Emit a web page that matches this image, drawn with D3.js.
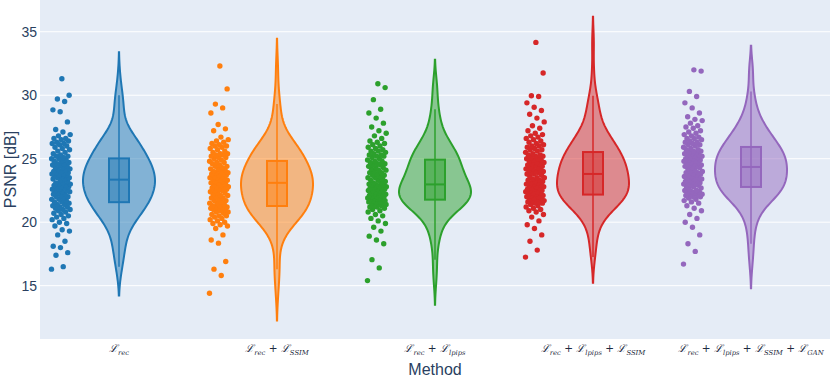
<!DOCTYPE html>
<meta charset="utf-8">
<title>PSNR per method</title>
<style>
body { margin: 0; background: #fff; }
text { font-family: "Liberation Sans", Arial, sans-serif; fill: #2a3f5f; }
.grid line { stroke: #fff; stroke-width: 1; }
.ytick { font-size: 14px; }
.xlab { font-family: "DejaVu Serif", serif; font-style: italic; fill: #1e2a40; }
</style>
<body>
<script src="https://d3js.org/d3.v7.min.js"></script>
<script>

var width = 830, height = 378;

// categories and their labels (subscripts of each L term)
var methods = ["rec", "rec+SSIM", "rec+lpips", "rec+lpips+SSIM", "rec+lpips+SSIM+GAN"];
var labelTerms = [
  ["rec"],
  ["rec", "SSIM"],
  ["rec", "lpips"],
  ["rec", "lpips", "SSIM"],
  ["rec", "lpips", "SSIM", "GAN"]
];
var colors = ["#1f77b4", "#ff7f0e", "#2ca02c", "#d62728", "#9467bd"];
var yTicks = [15, 20, 25, 30, 35];

// PSNR values
var psnrRec = [16.3,16.5,17.4,17.6,18.0,18.1,18.5,19.0,19.3,19.4,19.7,19.9,20.0,20.2,20.3,20.4,20.5,20.6,20.7,20.8,
  20.9,21.0,21.0,21.1,21.2,21.2,21.3,21.4,21.4,21.5,21.6,21.6,21.7,21.8,21.8,21.9,22.0,22.0,22.1,22.2,
  22.2,22.3,22.4,22.4,22.5,22.5,22.6,22.6,22.7,22.7,22.8,22.8,22.9,22.9,23.0,23.0,23.1,23.1,23.2,23.3,
  23.4,23.4,23.5,23.5,23.6,23.6,23.7,23.7,23.8,23.8,23.9,23.9,24.0,24.0,24.1,24.2,24.2,24.3,24.3,24.4,
  24.5,24.5,24.6,24.6,24.7,24.8,24.8,24.9,25.0,25.0,25.1,25.2,25.2,25.3,25.4,25.5,25.6,25.7,25.8,25.9,
  26.0,26.1,26.2,26.2,26.3,26.4,26.5,26.6,26.6,26.8,26.9,27.1,27.3,27.9,28.7,28.85,29.5,29.7,30.0,31.3];
var psnrSsim = [14.4,15.8,16.3,16.9,18.35,18.6,19.0,19.5,19.7,19.8,19.9,20.0,20.1,20.2,20.3,20.4,20.5,20.5,20.6,20.7,
  20.8,20.8,20.9,21.0,21.0,21.1,21.1,21.2,21.2,21.2,21.3,21.3,21.4,21.5,21.5,21.6,21.7,21.7,21.8,21.9,
  21.9,22.0,22.1,22.1,22.2,22.3,22.3,22.4,22.5,22.5,22.6,22.6,22.7,22.7,22.8,22.8,22.9,22.9,23.0,23.1,
  23.1,23.2,23.2,23.3,23.3,23.4,23.4,23.5,23.5,23.6,23.6,23.7,23.7,23.8,23.8,23.9,23.9,24.0,24.0,24.1,
  24.2,24.2,24.3,24.4,24.4,24.5,24.6,24.7,24.7,24.8,24.9,25.0,25.1,25.1,25.2,25.3,25.3,25.4,25.4,25.5,
  25.6,25.7,25.8,25.9,26.0,26.0,26.1,26.2,26.3,26.4,26.5,26.7,27.2,27.35,27.7,28.6,29.0,29.3,30.5,32.3];
var psnrLpips = [15.4,16.4,17.05,18.3,18.6,18.9,19.3,19.6,19.9,20.1,20.3,20.5,20.6,20.8,20.9,21.0,21.1,21.2,21.2,21.3,
  21.3,21.4,21.4,21.5,21.5,21.6,21.6,21.6,21.7,21.7,21.8,21.8,21.8,21.9,21.9,21.9,22.0,22.0,22.0,22.1,
  22.1,22.2,22.2,22.3,22.3,22.4,22.4,22.5,22.5,22.5,22.6,22.6,22.7,22.7,22.8,22.8,22.8,22.9,22.9,22.95,
  23.0,23.1,23.1,23.2,23.3,23.3,23.4,23.5,23.5,23.6,23.7,23.7,23.8,23.9,23.9,24.0,24.1,24.1,24.2,24.3,
  24.3,24.4,24.5,24.5,24.6,24.6,24.7,24.8,24.8,24.9,25.0,25.1,25.2,25.2,25.3,25.3,25.4,25.5,25.6,25.6,
  25.7,25.8,25.9,26.0,26.1,26.2,26.3,26.4,26.6,26.8,27.0,27.2,27.5,27.8,28.2,28.6,28.9,29.65,30.6,30.9];
var psnrLpipsSsim = [17.25,17.8,18.5,19.0,19.5,19.8,20.1,20.4,20.6,20.8,20.9,21.0,21.1,21.2,21.3,21.4,21.5,21.5,21.6,21.6,
  21.7,21.7,21.8,21.8,21.9,21.9,22.0,22.0,22.1,22.1,22.2,22.2,22.3,22.3,22.4,22.4,22.5,22.5,22.6,22.6,
  22.7,22.7,22.8,22.8,22.9,22.9,23.0,23.0,23.1,23.1,23.2,23.2,23.3,23.3,23.4,23.5,23.5,23.6,23.7,23.8,
  23.8,23.9,23.9,24.0,24.0,24.1,24.1,24.2,24.2,24.3,24.3,24.4,24.5,24.5,24.6,24.6,24.7,24.7,24.8,24.9,
  24.9,25.0,25.0,25.1,25.2,25.2,25.3,25.3,25.4,25.5,25.6,25.7,25.7,25.8,25.9,26.0,26.0,26.1,26.2,26.3,
  26.4,26.5,26.6,26.7,26.8,26.9,27.0,27.2,27.4,27.6,27.9,28.2,28.5,28.8,29.05,29.4,29.9,29.96,31.75,34.16];
var psnrAll = [16.7,17.7,18.3,19.0,19.6,20.0,20.3,20.6,20.9,21.1,21.3,21.5,21.6,21.7,21.8,21.9,22.0,22.0,22.1,22.1,
  22.2,22.2,22.3,22.3,22.4,22.4,22.5,22.5,22.6,22.7,22.8,22.8,22.9,22.9,23.0,23.0,23.1,23.1,23.2,23.2,
  23.3,23.3,23.4,23.4,23.5,23.5,23.6,23.6,23.7,23.7,23.8,23.8,23.9,23.9,24.0,24.0,24.1,24.2,24.3,24.3,
  24.4,24.4,24.5,24.5,24.6,24.6,24.7,24.7,24.8,24.8,24.9,24.9,25.0,25.0,25.1,25.1,25.2,25.2,25.3,25.3,
  25.4,25.4,25.5,25.5,25.6,25.6,25.7,25.7,25.8,25.9,26.0,26.1,26.1,26.2,26.3,26.3,26.4,26.5,26.6,26.6,
  26.7,26.8,26.9,27.0,27.1,27.2,27.4,27.5,27.6,27.8,28.0,28.1,28.3,28.6,29.0,29.4,29.9,30.3,31.9,32.0];

var series = [psnrRec, psnrSsim, psnrLpips, psnrLpipsSsim, psnrAll];

var plot = {left: 40, right: 830, top: 0, bottom: 339};
var halfW = 36, boxHalf = 10, pointOffset = -58, jitterW = 19;

var svg = d3.select("body").append("svg")
    .attr("width", width)
    .attr("height", height);

var x = d3.scaleBand().domain(methods).range([plot.left, plot.right]);
var y = d3.scaleLinear().domain([10.8, 37.5]).range([plot.bottom, plot.top]);

svg.append("rect")
    .attr("x", plot.left).attr("y", plot.top)
    .attr("width", plot.right - plot.left).attr("height", plot.bottom - plot.top)
    .attr("fill", "#E5ECF6");

svg.append("g").attr("class", "grid")
  .selectAll("line").data(yTicks).enter().append("line")
    .attr("x1", plot.left).attr("x2", plot.right)
    .attr("y1", function(d) { return y(d); }).attr("y2", function(d) { return y(d); });

svg.append("g").selectAll("text").data(yTicks).enter().append("text")
    .attr("class", "ytick")
    .attr("x", 37).attr("y", function(d) { return y(d); })
    .attr("dy", "0.36em")
    .attr("text-anchor", "end")
    .text(function(d) { return d; });

svg.append("text")
    .attr("transform", "translate(16," + ((plot.top + plot.bottom) / 2) + ") rotate(-90)")
    .attr("text-anchor", "middle")
    .style("font-size", "16px")
    .text("PSNR [dB]");

svg.append("text")
    .attr("x", (plot.left + plot.right) / 2).attr("y", 375)
    .attr("text-anchor", "middle")
    .style("font-size", "16px")
    .text("Method");

// gaussian kde, silverman bandwidth, span = data +- 2 bandwidths (like plotly "soft")
function kde(vals) {
  var s = vals.slice().sort(d3.ascending);
  var n = s.length;
  var iqr = d3.quantile(s, 0.75) - d3.quantile(s, 0.25);
  var bw = 1.059 * Math.min(d3.deviation(s), iqr / 1.349) * Math.pow(n, -0.2);
  var lo = s[0] - 2 * bw, hi = s[n - 1] + 2 * bw;
  var pts = [];
  for (var i = 0; i <= 200; ++i) {
    var t = lo + (hi - lo) * i / 200;
    var sum = 0;
    for (var j = 0; j < n; ++j) {
      var u = (t - s[j]) / bw;
      sum += Math.exp(-0.5 * u * u);
    }
    pts.push([t, sum / (n * bw * Math.sqrt(2 * Math.PI))]);
  }
  return pts;
}

function boxStats(vals) {
  var s = vals.slice().sort(d3.ascending);
  var q1 = d3.quantile(s, 0.25), med = d3.quantile(s, 0.5), q3 = d3.quantile(s, 0.75);
  var iqr = q3 - q1;
  var lo = d3.min(s.filter(function(v) { return v >= q1 - 1.5 * iqr; }));
  var hi = d3.max(s.filter(function(v) { return v <= q3 + 1.5 * iqr; }));
  return {q1: q1, med: med, q3: q3, lo: lo, hi: hi};
}

series.forEach(function(vals, k) {
  var col = colors[k];
  var cx = x(methods[k]) + x.bandwidth() / 2;
  var dens = kde(vals);
  var w = d3.scaleLinear().domain([0, d3.max(dens, function(d) { return d[1]; })]).range([0, halfW]);
  var g = svg.append("g");

  var area = d3.area()
      .x0(function(d) { return cx - w(d[1]); })
      .x1(function(d) { return cx + w(d[1]); })
      .y(function(d) { return y(d[0]); });

  g.append("path")
      .attr("d", area(dens))
      .attr("fill", col).attr("fill-opacity", 0.5)
      .attr("stroke", col).attr("stroke-width", 2);

  var b = boxStats(vals);
  g.append("line")
      .attr("x1", cx).attr("x2", cx)
      .attr("y1", y(b.lo)).attr("y2", y(b.hi))
      .attr("stroke", col).attr("stroke-width", 1.5);
  g.append("rect")
      .attr("x", cx - boxHalf).attr("width", 2 * boxHalf)
      .attr("y", y(b.q3)).attr("height", y(b.q1) - y(b.q3))
      .attr("fill", col).attr("fill-opacity", 0.5)
      .attr("stroke", col).attr("stroke-width", 2);
  g.append("line")
      .attr("x1", cx - boxHalf).attr("x2", cx + boxHalf)
      .attr("y1", y(b.med)).attr("y2", y(b.med))
      .attr("stroke", col).attr("stroke-width", 2);

  // jittered points left of the violin
  g.selectAll("circle").data(vals).enter().append("circle")
      .attr("cx", function(d, i) { return cx + pointOffset + ((i * 0.6180339) % 1 - 0.5) * jitterW; })
      .attr("cy", function(d) { return y(d); })
      .attr("r", 2.7)
      .attr("fill", col);

  // x tick label: L_a + L_b + ...
  var t = svg.append("text")
      .attr("class", "xlab")
      .attr("x", cx).attr("y", 352)
      .attr("text-anchor", "middle");
  labelTerms[k].forEach(function(sub, j) {
    if (j > 0) t.append("tspan").attr("dy", -2.5)
        .style("font-style", "normal").style("font-size", "10.5px").text(" + ");
    t.append("tspan").style("font-size", "10.5px").text("\u2112");
    t.append("tspan").style("font-size", "6.8px").attr("dy", 2.5).text(sub);
  });
});

</script>
</body>
